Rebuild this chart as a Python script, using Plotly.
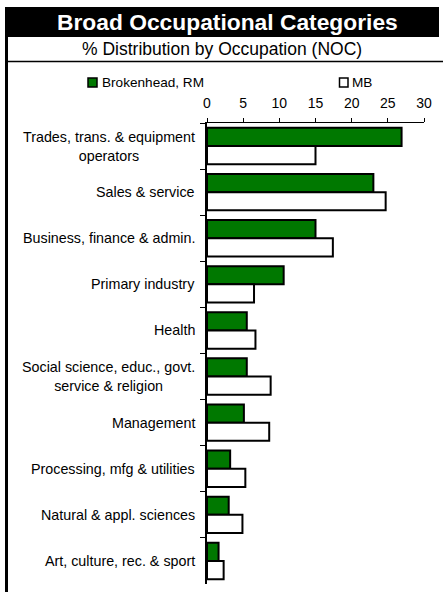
import plotly.graph_objects as go

categories = [
    "Trades, trans. & equipment<br>operators",
    "Sales & service",
    "Business, finance & admin.",
    "Primary industry",
    "Health",
    "Social science, educ., govt.<br>service & religion",
    "Management",
    "Processing, mfg & utilities",
    "Natural & appl. sciences",
    "Art, culture, rec. & sport",
]
brokenhead = [26.9, 23.0, 15.0, 10.6, 5.5, 5.5, 5.1, 3.2, 3.0, 1.6]
mb = [15.0, 24.7, 17.4, 6.5, 6.7, 8.8, 8.6, 5.3, 4.9, 2.3]
x_ticks = [0, 5, 10, 15, 20, 25, 30]
series_names = ["Brokenhead, RM", "MB"]

W, H = 443, 592
L, R, T, B = 207, 424, 123, 584
FONT = "Liberation Sans, Arial, sans-serif"


def px(x):
    return (x - L) / (R - L)


def py(y):
    return (B - y) / (B - T)


fig = go.Figure()
fig.add_trace(go.Bar(
    name=series_names[0], y=categories, x=brokenhead, orientation="h",
    marker=dict(color="#007800", line=dict(color="black", width=2)),
))
fig.add_trace(go.Bar(
    name=series_names[1], y=categories, x=mb, orientation="h",
    marker=dict(color="white", line=dict(color="black", width=2)),
))

shapes = [
    # title band
    dict(type="rect", xref="paper", yref="paper", x0=px(5), x1=px(439), y0=py(37), y1=py(7),
         fillcolor="black", line=dict(width=0), layer="below"),
    # left border
    dict(type="rect", xref="paper", yref="paper", x0=px(5), x1=px(8), y0=py(592), y1=py(7),
         fillcolor="black", line=dict(width=0)),
    # separator line
    dict(type="line", xref="paper", yref="paper", x0=px(5), x1=px(443), y0=py(61.5), y1=py(61.5),
         line=dict(color="black", width=1.5)),
    # legend squares
    dict(type="rect", xref="paper", yref="paper", x0=px(88), x1=px(97), y0=py(87), y1=py(78),
         fillcolor="#007800", line=dict(color="black", width=1.5)),
    dict(type="rect", xref="paper", yref="paper", x0=px(339.5), x1=px(348), y0=py(87), y1=py(78),
         fillcolor="white", line=dict(color="black", width=1.5)),
]

annotations = [
    dict(text="<b>Broad Occupational Categories</b>", xref="paper", yref="paper",
         x=px(227), y=py(22), xanchor="center", yanchor="middle", showarrow=False,
         font=dict(family=FONT, size=22.8, color="white")),
    dict(text="% Distribution by Occupation (NOC)", xref="paper", yref="paper",
         x=px(222), y=py(49), xanchor="center", yanchor="middle", showarrow=False,
         font=dict(family=FONT, size=17.5, color="black")),
    dict(text=series_names[0], xref="paper", yref="paper", x=px(99.5), y=py(82.5),
         xanchor="left", yanchor="middle", showarrow=False,
         font=dict(family=FONT, size=13.6, color="black")),
    dict(text=series_names[1], xref="paper", yref="paper", x=px(349.5), y=py(82.5),
         xanchor="left", yanchor="middle", showarrow=False,
         font=dict(family=FONT, size=13.6, color="black")),
]
for c in categories:
    annotations.append(dict(
        text=c, xref="paper", yref="y", x=0, y=c, xanchor="right", yanchor="middle",
        xshift=-10, showarrow=False, align="center",
        font=dict(family=FONT, size=14.3, color="black"),
    ))

fig.update_layout(
    width=W, height=H,
    margin=dict(l=L, r=W - R, t=T, b=H - B, pad=0),
    paper_bgcolor="white", plot_bgcolor="white",
    barmode="group", bargap=0.21, bargroupgap=0,
    showlegend=False,
    shapes=shapes, annotations=annotations,
    font=dict(family=FONT, color="black"),
    xaxis=dict(
        range=[0, 30], tickvals=x_ticks, side="top", showline=True, linecolor="black",
        linewidth=1, ticks="outside", ticklen=4, tickcolor="black", showgrid=False,
        zeroline=False, tickfont=dict(family=FONT, size=14, color="black"),
        ticklabelstandoff=4, fixedrange=True,
    ),
    yaxis=dict(
        type="category", categoryorder="array", categoryarray=categories,
        range=[len(categories) - 0.5, -0.5], showline=True, linecolor="black",
        linewidth=1.5, ticks="outside", tickson="boundaries", ticklen=5, tickcolor="black",
        showticklabels=False, showgrid=False, zeroline=False, fixedrange=True,
    ),
)

fig.write_html(
    "out.html",
    config={"displayModeBar": False},
    post_script="document.body.style.margin='0';document.body.style.overflow='hidden';",
)
